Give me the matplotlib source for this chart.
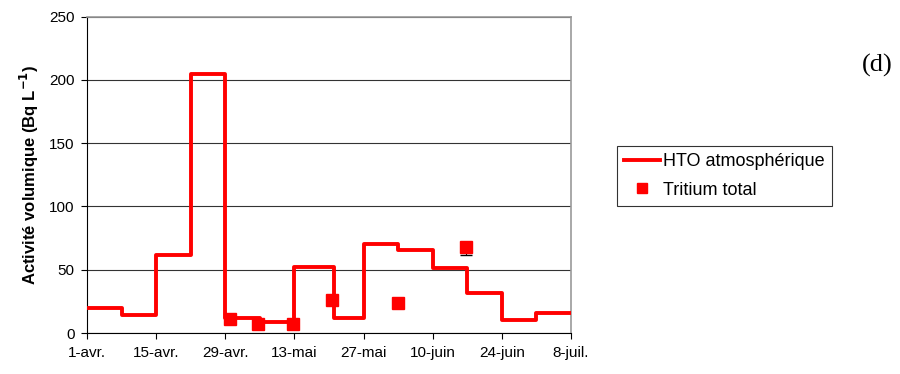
import numpy as np
import matplotlib
matplotlib.use("Agg")
import matplotlib.pyplot as plt

plt.rcParams["font.family"] = ["Liberation Sans", "DejaVu Sans"]

# days since 1 April
hto_edges = [0.5, 7, 14, 21, 28, 35, 42, 50, 56, 63, 70, 77, 84, 91, 98]
hto_values = [20, 14, 62, 205, 12, 9, 52, 12, 70, 66, 51, 32, 10, 16]

tt_days = [29, 34.7, 41.8, 49.7, 62.9, 76.8]
tt_values = [11, 7, 7, 26, 24, 68]
tt_err_low = [0, 0, 0, 0, 0, 6.5]
tt_err_high = [0, 0, 0, 0, 0, 0]

tick_days = [0, 14, 28, 42, 56, 70, 84, 98]
tick_labels = ["1-avr.", "15-avr.", "29-avr.", "13-mai", "27-mai", "10-juin", "24-juin", "8-juil."]

RED = "#FF0000"

fig = plt.figure(figsize=(9, 3.74), dpi=100)
ax = fig.add_axes([0.0967, 0.1096, 0.5378, 0.8457])

ax.step(hto_edges, hto_values + [hto_values[-1]], where="post",
        color=RED, lw=2.8, label="HTO atmosphérique", zorder=3)
ax.errorbar(tt_days, tt_values, yerr=[tt_err_low, tt_err_high], fmt="none",
            ecolor="black", elinewidth=0.8, capsize=4, capthick=1.0, zorder=3)
ax.plot(tt_days, tt_values, ls="none", marker="s", ms=9, color=RED,
        label="Tritium total", zorder=4)

ax.set_xlim(0, 98)
ax.set_ylim(0, 250)
ax.set_xticks(tick_days)
ax.set_xticklabels(tick_labels)
ax.set_yticks(np.arange(0, 251, 50))
ax.tick_params(labelsize=11, length=4, width=0.8, direction="out", pad=5)

ax.yaxis.grid(True, color="#333333", lw=0.8)
ax.set_axisbelow(True)
for s in ["top", "right"]:
    ax.spines[s].set_color("#999999")
    ax.spines[s].set_linewidth(1.2)
for s in ["left", "bottom"]:
    ax.spines[s].set_color("black")
    ax.spines[s].set_linewidth(0.8)

ax.set_ylabel(r"Activité volumique (Bq L$^{\mathbf{-1}}$)", fontsize=12,
              fontweight="bold", labelpad=6)

leg = ax.legend(loc="upper left", bbox_to_anchor=(0.685, 0.61),
                bbox_transform=fig.transFigure, borderaxespad=0,
                fancybox=False, frameon=True, edgecolor="black",
                fontsize=13, handlelength=2.0, handletextpad=0.2,
                borderpad=0.4, labelspacing=0.65, markerscale=0.85)
leg.get_frame().set_linewidth(0.8)

fig.text(0.958, 0.825, "(d)", fontsize=19, family="Liberation Serif",
         ha="left", va="center")

fig.savefig("out.png", dpi=100)
